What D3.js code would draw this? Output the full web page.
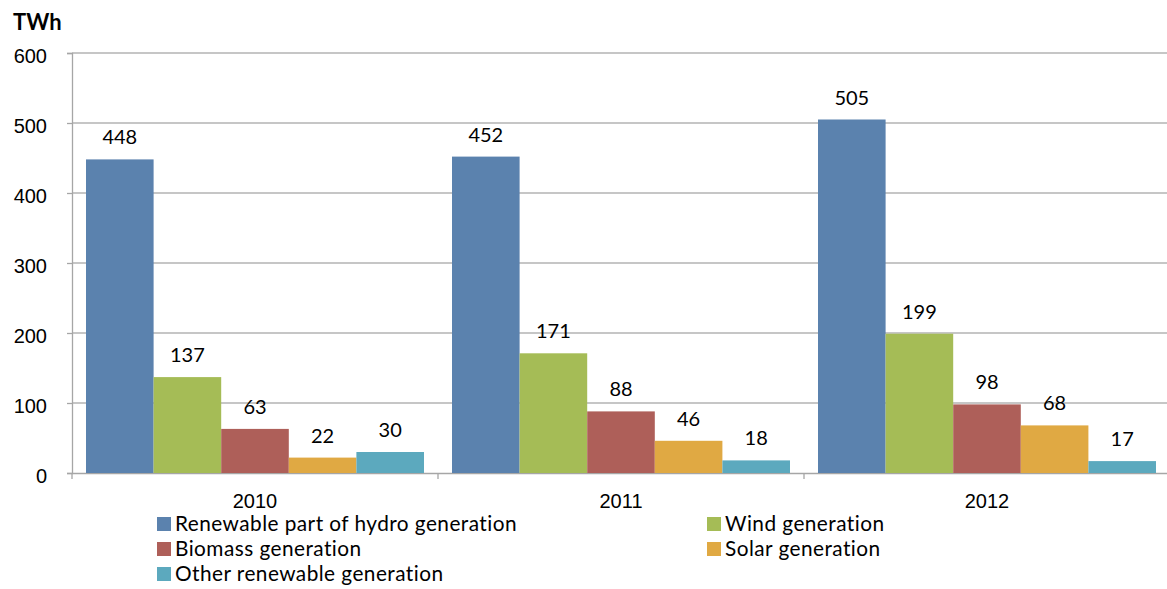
<!DOCTYPE html>
<html>
<head>
<meta charset="utf-8">
<script src="https://cdn.jsdelivr.net/npm/d3@7"></script>
<style>
  html, body { margin: 0; padding: 0; background: #fff; }
  svg { display: block; font-family: Lato, "Open Sans", sans-serif; }
</style>
</head>
<body>
<svg id="chart" width="1167" height="589"></svg>
<script>
// Renewable electricity generation by source, TWh
const years = ["2010", "2011", "2012"];
const seriesNames = [
  "Renewable part of hydro generation",
  "Wind generation",
  "Biomass generation",
  "Solar generation",
  "Other renewable generation"
];
const hydro   = [448, 452, 505];
const wind    = [137, 171, 199];
const biomass = [63, 88, 98];
const solar   = [22, 46, 68];
const other   = [30, 18, 17];
const yTicks  = [0, 100, 200, 300, 400, 500, 600];
const colors  = ["#5B82AE", "#A5BC56", "#AE5F59", "#E0A943", "#5CA9BE"];

const seriesValues = [hydro, wind, biomass, solar, other];

const svg = d3.select("#chart");
const plotLeft = 72, plotRight = 1170, plotTop = 53, plotBottom = 473;
const groupGap = 14;
const numSize = 20;

const x0 = d3.scaleBand().domain(years).range([plotLeft, plotRight]).padding(0);
const x1 = d3.scaleBand().domain(seriesNames)
  .range([groupGap, x0.bandwidth() - groupGap]).padding(0);
const y = d3.scaleLinear().domain([0, 600]).range([plotBottom, plotTop]);

// horizontal gridlines
svg.append("g")
  .selectAll("line")
  .data(yTicks.filter(t => t > 0))
  .join("line")
  .attr("x1", plotLeft).attr("x2", plotRight)
  .attr("y1", d => y(d)).attr("y2", d => y(d))
  .attr("stroke", "#b3b3b3").attr("stroke-width", 1.3);

// y axis
const yAxis = svg.append("g")
  .attr("transform", `translate(${plotLeft},0)`)
  .call(d3.axisLeft(y).tickValues(yTicks).tickSize(5).tickPadding(20));
yAxis.select(".domain").attr("stroke", "#a6a6a6").attr("stroke-width", 1.3);
yAxis.selectAll(".tick line").attr("stroke", "#a6a6a6").attr("stroke-width", 1.3);
yAxis.selectAll(".tick text").attr("font-size", numSize).attr("fill", "#000").attr("dy", "0.45em");

// x axis
const xAxis = svg.append("g")
  .attr("transform", `translate(0,${plotBottom})`)
  .call(d3.axisBottom(x0).tickSize(0).tickPadding(21));
xAxis.select(".domain").attr("stroke", "#a6a6a6").attr("stroke-width", 1.3);
xAxis.selectAll(".tick text").attr("font-size", numSize).attr("fill", "#000");
// category separators
svg.append("g")
  .selectAll("line")
  .data(years.map(d => x0(d)).concat([plotRight]))
  .join("line")
  .attr("x1", d => d).attr("x2", d => d)
  .attr("y1", plotBottom).attr("y2", plotBottom + 6)
  .attr("stroke", "#a6a6a6").attr("stroke-width", 1.3);

// bars
const groups = svg.append("g")
  .selectAll("g")
  .data(years)
  .join("g")
  .attr("transform", d => `translate(${x0(d)},0)`);

groups.selectAll("rect")
  .data((yr, i) => seriesNames.map((s, k) => ({ s, k, v: seriesValues[k][i] })))
  .join("rect")
  .attr("x", d => x1(d.s))
  .attr("width", x1.bandwidth())
  .attr("y", d => y(d.v))
  .attr("height", d => y(0) - y(d.v))
  .attr("fill", d => colors[d.k]);

groups.selectAll("text")
  .data((yr, i) => seriesNames.map((s, k) => ({ s, k, v: seriesValues[k][i] })))
  .join("text")
  .attr("x", d => x1(d.s) + x1.bandwidth() / 2)
  .attr("y", d => y(d.v) - 15)
  .attr("text-anchor", "middle")
  .attr("font-size", numSize)
  .attr("fill", "#000")
  .text(d => d.v);

// unit label
svg.append("text")
  .attr("x", 13).attr("y", 30)
  .attr("font-size", 22).attr("font-weight", "bold")
  .text("TWh");

// legend
const legendPos = [
  [157, 524], [707, 524],
  [157, 549], [707, 549],
  [157, 574]
];
const legend = svg.append("g")
  .selectAll("g")
  .data(seriesNames)
  .join("g")
  .attr("transform", (d, i) => `translate(${legendPos[i][0]},${legendPos[i][1]})`);
legend.append("rect")
  .attr("x", 0).attr("y", -7).attr("width", 14).attr("height", 14)
  .attr("fill", (d, i) => colors[i]);
legend.append("text")
  .attr("x", 18).attr("y", 0).attr("dy", "0.35em")
  .attr("font-size", 20.8).attr("letter-spacing", 0.45).attr("fill", "#000")
  .text(d => d);
</script>
</body>
</html>
